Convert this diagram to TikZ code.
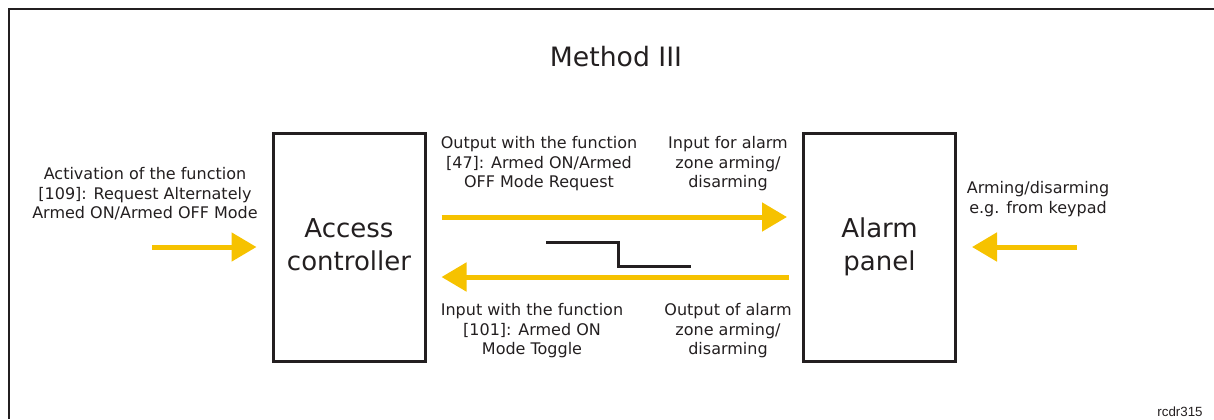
\documentclass[tikz,border=0pt]{standalone}
\usepackage{fontspec}
\setmainfont{DejaVu Sans}
\newfontfamily\tagfont{Liberation Sans}
\usetikzlibrary{arrows.meta, calc, positioning}

\definecolor{sigyellow}{RGB}{246,194,0}
\definecolor{inkgray}{RGB}{35,31,32}

\tikzset{
  block/.style={draw=inkgray, line width=2.25pt, minimum width=114pt, minimum height=171pt,
    align=center, text=inkgray, font=\fontsize{19.5}{24.75}\selectfont},
  sig/.style={sigyellow, line width=3.75pt, -{Triangle[length=18.75pt, width=21pt]}},
  lbl/.style={align=center, text=inkgray, font=\fontsize{12}{14.6}\selectfont, inner sep=0pt}
}

\begin{document}
\begin{tikzpicture}[x=0.75pt, y=-0.75pt]
\useasboundingbox (0,0) rectangle (1214,419);
\draw[inkgray, line width=1.5pt] (9,419) -- (9,9) -- (1214,9);
\node[text=inkgray, font=\fontsize{20}{24}\selectfont] (title) at (616,57) {Method III};

\node[block] (ctrl) at (349,247) {Access\\controller\vphantom{p}};
\node[block] (alarm) at (879.5,247) {Alarm\\panel};

% inputs from outside
\coordinate (leftin) at (152,247);
\coordinate (rightin) at (1077,247);
\draw[sig] (leftin) -- ($(ctrl.west)+(-15,0)$);
\draw[sig] (rightin) -- ($(alarm.east)+(15,0)$);

% signals between the two units
\draw[sig] ($(ctrl.east)+(15,-30)$) -- ($(alarm.west)+(-15,-30)$);
\draw[sig] ($(alarm.west)+(-13,30)$) -- ($(ctrl.east)+(15,30)$);

% step symbol
\draw[inkgray, line width=2.25pt] (546,242) -- (618,242) -- (618,266) -- (691,266);

\node[lbl] (actlbl) at (145,194) {Activation of the function\\\relax[109]: Request Alternately\\Armed ON/Armed OFF Mode};
\node[lbl] (outlbl) at (539,164) {Output with the function\\\relax[47]: Armed ON/Armed\\OFF Mode Request};
\node[lbl] (inzlbl) at (728,164) {Input for alarm\\zone arming/\\disarming};
\node[lbl] (inlbl) at (532,331) {Input with the function\\\relax[101]: Armed ON\\Mode Toggle};
\node[lbl] (outzlbl) at (728,331) {Output of alarm\\zone arming/\\disarming};
\node[lbl] (keylbl) at (1038,199) {Arming/disarming\\e.g. from keypad};

\node[text=inkgray, font=\tagfont\fontsize{10}{12}\selectfont, inner sep=0pt] (tag) at (1180,412) {rcdr315};
\end{tikzpicture}
\end{document}
